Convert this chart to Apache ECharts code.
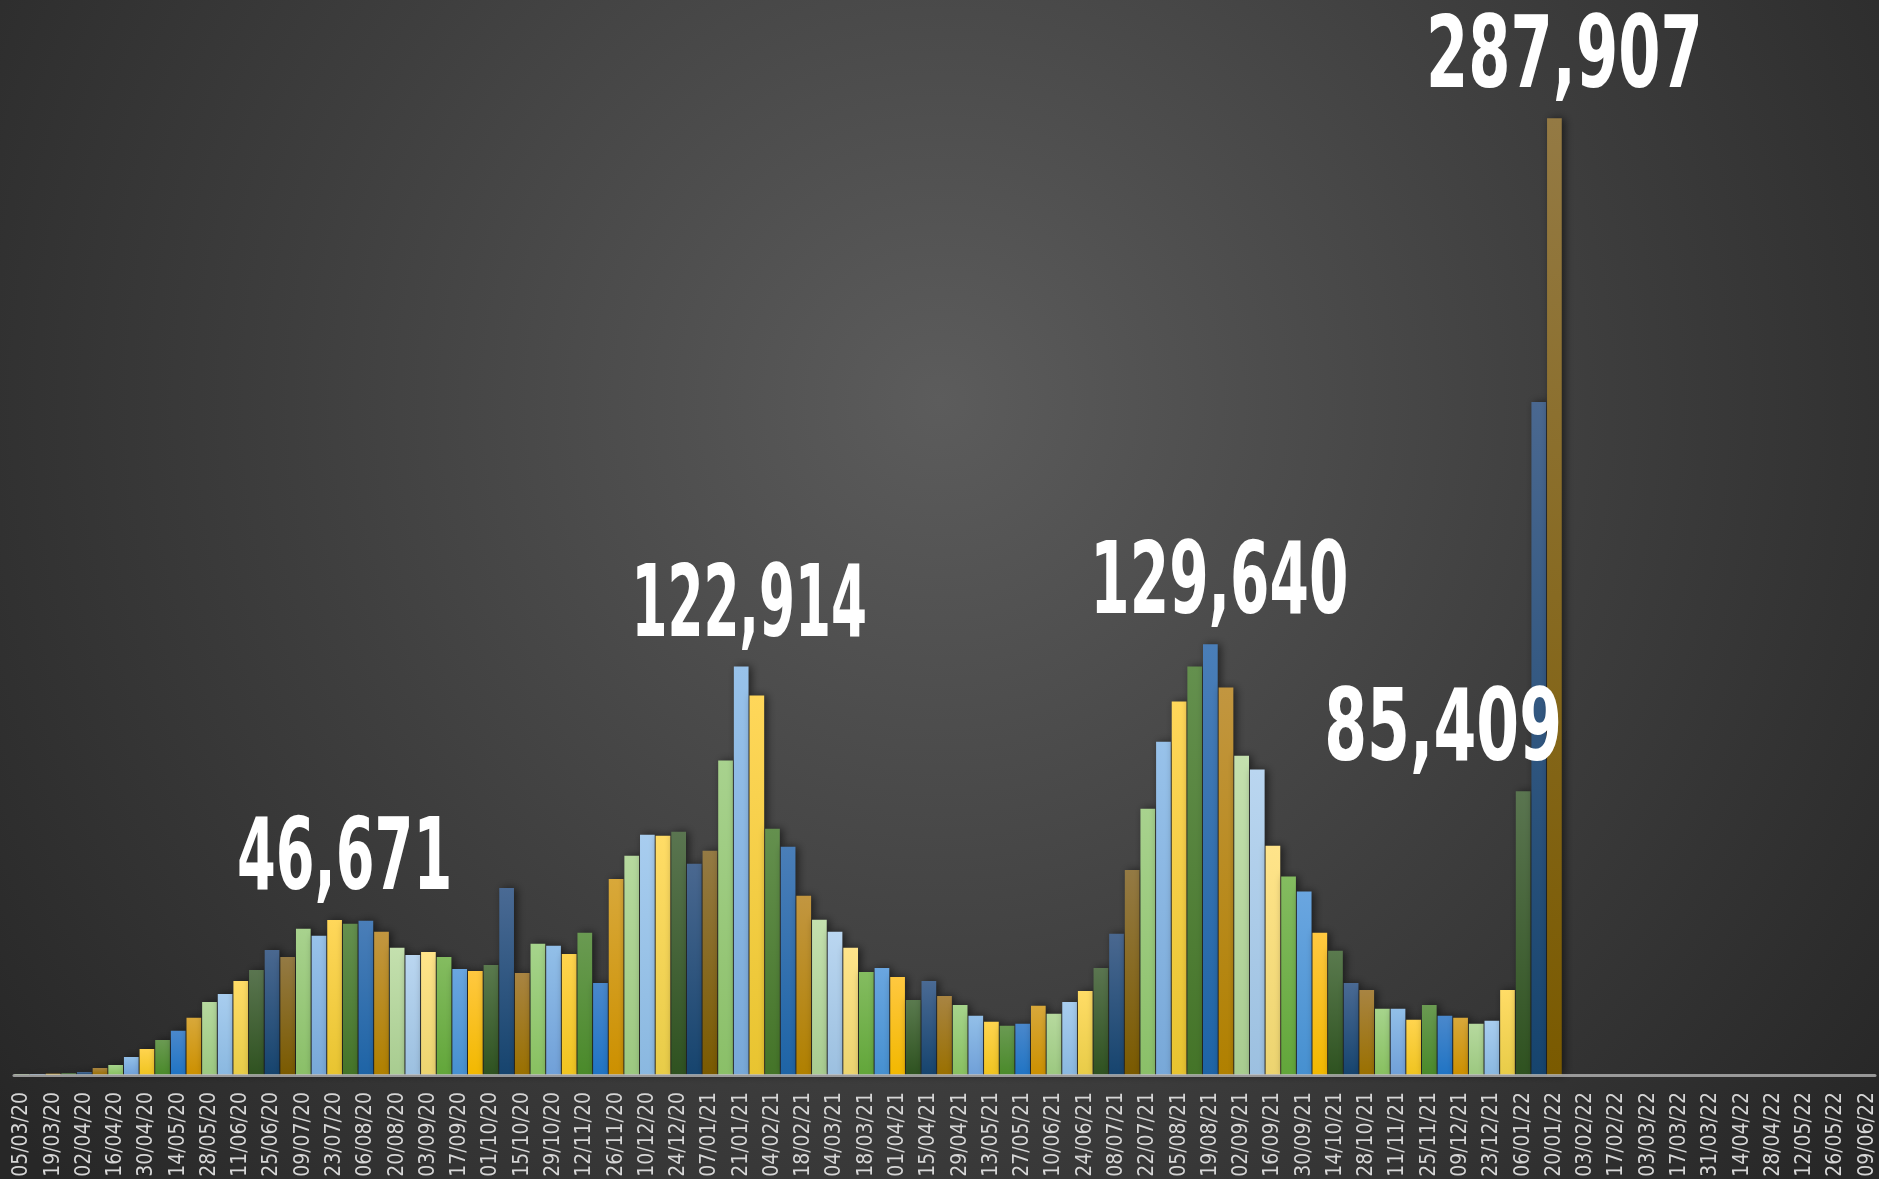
<!DOCTYPE html>
<html>
<head>
<meta charset="utf-8">
<script src="https://cdn.jsdelivr.net/npm/echarts@6/dist/echarts.min.js"></script>
<style>
  html, body { margin: 0; padding: 0; background: #2a2a2a; }
  #chart { width: 1879px; height: 1179px; }
</style>
</head>
<body>
<div id="chart"></div>
<script>
// weekly dates, 05/03/20 .. 09/06/22
var weeks = [
    '05/03/20', '12/03/20', '19/03/20', '26/03/20', '02/04/20', '09/04/20', '16/04/20', '23/04/20', '30/04/20', '07/05/20',
    '14/05/20', '21/05/20', '28/05/20', '04/06/20', '11/06/20', '18/06/20', '25/06/20', '02/07/20', '09/07/20', '16/07/20',
    '23/07/20', '30/07/20', '06/08/20', '13/08/20', '20/08/20', '27/08/20', '03/09/20', '10/09/20', '17/09/20', '24/09/20',
    '01/10/20', '08/10/20', '15/10/20', '22/10/20', '29/10/20', '05/11/20', '12/11/20', '19/11/20', '26/11/20', '03/12/20',
    '10/12/20', '17/12/20', '24/12/20', '31/12/20', '07/01/21', '14/01/21', '21/01/21', '28/01/21', '04/02/21', '11/02/21',
    '18/02/21', '25/02/21', '04/03/21', '11/03/21', '18/03/21', '25/03/21', '01/04/21', '08/04/21', '15/04/21', '22/04/21',
    '29/04/21', '06/05/21', '13/05/21', '20/05/21', '27/05/21', '03/06/21', '10/06/21', '17/06/21', '24/06/21', '01/07/21',
    '08/07/21', '15/07/21', '22/07/21', '29/07/21', '05/08/21', '12/08/21', '19/08/21', '26/08/21', '02/09/21', '09/09/21',
    '16/09/21', '23/09/21', '30/09/21', '07/10/21', '14/10/21', '21/10/21', '28/10/21', '04/11/21', '11/11/21', '18/11/21',
    '25/11/21', '02/12/21', '09/12/21', '16/12/21', '23/12/21', '30/12/21', '06/01/22', '13/01/22', '20/01/22', '27/01/22',
    '03/02/22', '10/02/22', '17/02/22', '24/02/22', '03/03/22', '10/03/22', '17/03/22', '24/03/22', '31/03/22', '07/04/22',
    '14/04/22', '21/04/22', '28/04/22', '05/05/22', '12/05/22', '19/05/22', '26/05/22', '02/06/22', '09/06/22'
];

// weekly cases, empty after 20/01/22
var cases = [
    200, 250, 350, 600, 900, 2100, 3000, 5400, 7800, 10500,
    13300, 17200, 22000, 24400, 28300, 31600, 37600, 35500, 44000, 41900,
    46671, 45500, 46400, 43100, 38300, 36100, 37000, 35500, 31900, 31300,
    33100, 56300, 30700, 39500, 38900, 36400, 42800, 27700, 59000, 66000,
    72300, 72000, 73200, 63600, 67500, 94600, 122914, 114200, 74100, 68700,
    53900, 46700, 43100, 38300, 31000, 32200, 29500, 22600, 28300, 23800,
    21100, 17800, 16000, 14800, 15400, 20800, 18400, 22000, 25300, 32200,
    42500, 61700, 80100, 100300, 112400, 122900, 129640, 116600, 96100, 91900,
    69000, 59700, 55200, 42800, 37400, 27700, 25600, 19900, 19900, 16600,
    21100, 17800, 17200, 15400, 16300, 25600, 85409, 202500, 287907, null,
    null, null, null, null, null, null, null, null, null, null,
    null, null, null, null, null, null, null, null, null
];

// peaks that get a big number, how far the number sits left/right of its bar,
// and how much it is squeezed
var peakIdx = [20, 46, 76, 96, 98];
var peakShift = [10, 8, 9, -80, 10];
var peakSqueeze = [0.62, 0.575, 0.63, 0.685, 0.675];

// bar colours, top -> bottom, repeating every 27 bars
var barTop = [
    '#84bc60', '#6aa6e0', '#ffc840', '#5a7a4e', '#4a6a94', '#a88442', '#a6d48c', '#92bfe8', '#ffd44e',
    '#6a9a52', '#4a88cc', '#d8a83a', '#b6d99e', '#a8cdef', '#ffdc66', '#5a7550', '#4a6890', '#947a44',
    '#a8d28e', '#98c2ea', '#ffd75a', '#64904e', '#4a7eb8', '#c29640', '#c4e0ae', '#bad6f0', '#ffe48a'
];
var barBottom = [
    '#62a63a', '#4690d0', '#f2b800', '#2e5220', '#16446e', '#9a7000', '#88c060', '#70a0d8', '#f0c420',
    '#4a8a2a', '#2074c4', '#cc9000', '#9cc880', '#8ab8e0', '#e8cc48', '#2f5220', '#16446e', '#7a5a00',
    '#8abf68', '#78a8d8', '#e8c430', '#447428', '#1e64a6', '#b08000', '#a8cc90', '#9cc0e0', '#ecd470'
];

var narrowFont = "'DejaVu Sans Condensed', 'Liberation Sans Narrow', 'Roboto', sans-serif";

var barData = cases.map(function (v, i) {
    var k = i % 27;
    return {
        value: v,
        itemStyle: {
            color: {
                type: 'linear', x: 0, y: 0, x2: 0, y2: 1,
                colorStops: [
                    { offset: 0, color: barTop[k] },
                    { offset: 1, color: barBottom[k] }
                ]
            }
        }
    };
});

var myChart = echarts.init(document.getElementById('chart'));

var option = {
    animation: false,
    backgroundColor: {
        type: 'radial', x: 0.5, y: 0.34, r: 1.0,
        colorStops: [
            { offset: 0, color: '#5c5c5c' },
            { offset: 0.55, color: '#3e3e3e' },
            { offset: 1, color: '#272727' }
        ]
    },
    grid: {
        left: 14,
        right: 4,
        top: 78,
        bottom: 104,
        containLabel: false,
        outerBoundsMode: 'none'
    },
    xAxis: {
        type: 'category',
        data: weeks,
        z: 5,
        axisLine: { show: true, lineStyle: { color: 'rgba(190,190,190,0.75)', width: 3 } },
        axisTick: { show: false },
        axisLabel: {
            interval: 1,
            rotate: 90,
            margin: 17,
            color: '#d6d6d6',
            fontFamily: narrowFont,
            fontSize: 21
        }
    },
    yAxis: {
        type: 'value',
        min: 0,
        max: 300000,
        show: false,
        splitLine: { show: false }
    },
    series: [{
        name: 'cases',
        type: 'bar',
        data: barData,
        barCategoryGap: '6%',
        itemStyle: {
            shadowColor: 'rgba(0,0,0,0.55)',
            shadowBlur: 8,
            shadowOffsetX: 3,
            shadowOffsetY: 0
        },
        emphasis: { disabled: true }
    }]
};

myChart.setOption(option);

// big peak numbers: squeezed text placed over the bar tops
var peakText = peakIdx.map(function (idx, k) {
    var pt = myChart.convertToPixel({ seriesIndex: 0 }, [idx, cases[idx]]);
    return {
        type: 'text',
        x: pt[0] + peakShift[k],
        y: pt[1] - 57,
        scaleX: peakSqueeze[k],
        z: 100,
        style: {
            text: cases[idx].toLocaleString('en-US'),
            fill: '#ffffff',
            font: "bold 100px 'DejaVu Sans Condensed', 'DejaVu Sans', sans-serif",
            textAlign: 'center',
            verticalAlign: 'middle',
            shadowColor: 'rgba(0,0,0,0.45)',
            shadowBlur: 4,
            shadowOffsetX: 2,
            shadowOffsetY: 2
        }
    };
});
myChart.setOption({ graphic: peakText });
</script>
</body>
</html>
